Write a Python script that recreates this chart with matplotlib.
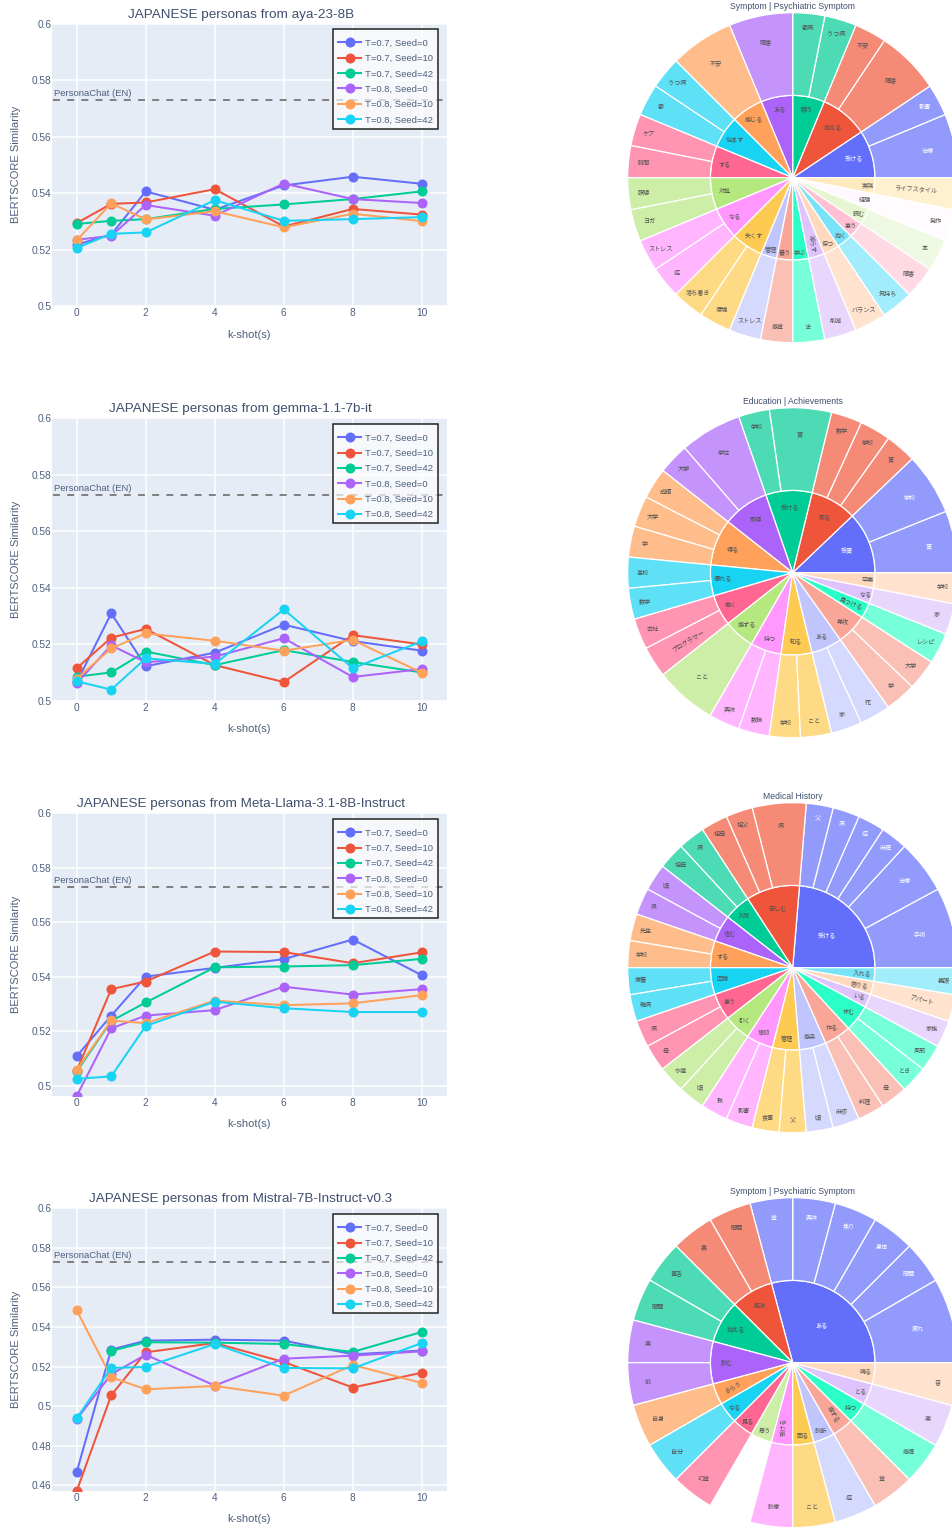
import numpy as np
import matplotlib
matplotlib.use('Agg')
import matplotlib.pyplot as plt
from matplotlib.patches import Rectangle

plt.rcParams['font.family'] = ['Liberation Sans', 'Noto Sans CJK JP']
plt.rcParams['lines.scale_dashes'] = False

W, H = 953, 1528

kshots = [0, 1, 2, 4, 6, 8, 10]
series_names = ['T=0.7, Seed=0', 'T=0.7, Seed=10', 'T=0.7, Seed=42',
                'T=0.8, Seed=0', 'T=0.8, Seed=10', 'T=0.8, Seed=42']
line_colors = ['#636EFA', '#EF553B', '#00CC96', '#AB63FA', '#FFA15A', '#19D3F3']
personachat = 0.5728

# chart 1, aya
aya_t7_s0 = [0.5218, 0.5253, 0.5406, 0.5341, 0.5427, 0.5458, 0.5433]
aya_t7_s10 = [0.5294, 0.5362, 0.5367, 0.5414, 0.5282, 0.5344, 0.5324]
aya_t7_s42 = [0.5291, 0.5302, 0.5308, 0.5344, 0.536, 0.5379, 0.5406]
aya_t8_s0 = [0.5235, 0.5249, 0.5358, 0.532, 0.5434, 0.5379, 0.5365]
aya_t8_s10 = [0.5233, 0.5364, 0.5307, 0.5336, 0.5279, 0.5327, 0.5301]
aya_t8_s42 = [0.5206, 0.5256, 0.5261, 0.5375, 0.5302, 0.5308, 0.5315]

# chart 2, gemma
gemma_t7_s0 = [0.5066, 0.531, 0.5123, 0.5171, 0.527, 0.5212, 0.5178]
gemma_t7_s10 = [0.5116, 0.5224, 0.5255, 0.5127, 0.5067, 0.5233, 0.52]
gemma_t7_s42 = [0.5086, 0.5101, 0.5175, 0.5127, 0.518, 0.5138, 0.5101]
gemma_t8_s0 = [0.5063, 0.5197, 0.5137, 0.5157, 0.5222, 0.5085, 0.5113]
gemma_t8_s10 = [0.5079, 0.5186, 0.5239, 0.5213, 0.5178, 0.5216, 0.51]
gemma_t8_s42 = [0.507, 0.504, 0.5151, 0.5131, 0.5324, 0.5116, 0.5211]

# chart 3, llama
llama_t7_s0 = [0.5109, 0.5258, 0.5401, 0.5433, 0.5465, 0.5537, 0.5406]
llama_t7_s10 = [0.5056, 0.5355, 0.5383, 0.5493, 0.5491, 0.545, 0.549]
llama_t7_s42 = [0.5053, 0.5238, 0.5306, 0.5435, 0.5438, 0.5443, 0.5466]
llama_t8_s0 = [0.4963, 0.5211, 0.5258, 0.5278, 0.5364, 0.5335, 0.5355]
llama_t8_s10 = [0.5059, 0.524, 0.523, 0.5313, 0.5296, 0.5303, 0.5333]
llama_t8_s42 = [0.5026, 0.5035, 0.522, 0.5309, 0.5285, 0.5271, 0.5271]

# chart 4, mistral (no green point visible at k=0)
mistral_t7_s0 = [0.4667, 0.5286, 0.5331, 0.5336, 0.5331, 0.5262, 0.5281]
mistral_t7_s10 = [0.4571, 0.5055, 0.5272, 0.5319, 0.5223, 0.5094, 0.5169]
mistral_t7_s42 = [np.nan, 0.5279, 0.5323, 0.5321, 0.5314, 0.5274, 0.5375]
mistral_t8_s0 = [0.4934, 0.5161, 0.526, 0.5104, 0.524, 0.5255, 0.5277]
mistral_t8_s10 = [0.5484, 0.5146, 0.5085, 0.5102, 0.5053, 0.5208, 0.5117]
mistral_t8_s42 = [0.4939, 0.5193, 0.5198, 0.5314, 0.5193, 0.5191, 0.5319]

line_titles = ['JAPANESE personas from aya-23-8B',
               'JAPANESE personas from gemma-1.1-7b-it',
               'JAPANESE personas from Meta-Llama-3.1-8B-Instruct',
               'JAPANESE personas from Mistral-7B-Instruct-v0.3']
line_data = [
    [aya_t7_s0, aya_t7_s10, aya_t7_s42, aya_t8_s0, aya_t8_s10, aya_t8_s42],
    [gemma_t7_s0, gemma_t7_s10, gemma_t7_s42, gemma_t8_s0, gemma_t8_s10, gemma_t8_s42],
    [llama_t7_s0, llama_t7_s10, llama_t7_s42, llama_t8_s0, llama_t8_s10, llama_t8_s42],
    [mistral_t7_s0, mistral_t7_s10, mistral_t7_s42, mistral_t8_s0, mistral_t8_s10, mistral_t8_s42],
]
yticks_short = [0.5, 0.52, 0.54, 0.56, 0.58, 0.6]
yticks_long = [0.46, 0.48, 0.5, 0.52, 0.54, 0.56, 0.58, 0.6]
line_yticks = [yticks_short, yticks_short, yticks_short, yticks_long]
line_ylims = [(0.5, 0.6), (0.5, 0.6), (0.4963, 0.6), (0.4571, 0.6)]

# sunbursts: verbs in the ring, objects in the outer band
sb1_title = 'Symptom | Psychiatric Symptom'
sb1_verbs = ['受ける', '抱える', '闘う', 'ある', '感じる', '悩ます', 'する', '対処', 'なる', '失くす',
             '管理', '養う', '学ぶ', '減らす', '保つ', '抱く', '患う', '読む', '経験', '実践']
sb1_objects = [['治療', '影響'], ['障害', '不安'], ['うつ病', '鬱病'], ['障害'], ['不安'], ['うつ病', '鬱'],
               ['ケア', '時間'], ['瞑想', 'ヨガ'], ['ストレス', '症'], ['落ち着き', '環境'],
               ['ストレス'], ['感覚'], ['法'], ['削減'], ['バランス'], ['気持ち'], ['障害'], ['本'],
               ['発作'], ['ライフスタイル']]
sb1_counts = [[2, 1], [2, 1], [1, 1], [2], [2], [1, 1], [1, 1], [1, 1], [1, 1], [1, 1],
              [1], [1], [1], [1], [1], [1], [1], [1], [1], [1]]

sb2_title = 'Education | Achievements'
sb2_verbs = ['受賞', '取る', '受ける', '取得', '得る', '優れる', '働く', '感ずる', '持つ', '知る',
             'ある', '専攻', '見つける', 'なる', '卒業']
sb2_objects = [['賞', '学校'], ['賞', '学校', '数学'], ['賞', '学校'], ['学位', '大学'], ['成績', '大学', '学'],
               ['高校', '数学'], ['会社', 'プログラマー'], ['こと'], ['興味', '数論'], ['学校', 'こと'],
               ['家', '花'], ['学', '大学'], ['レシピ'], ['家'], ['学校']]
sb2_counts = [[2, 2], [1, 1, 1], [2, 1], [2, 1], [1, 1, 1], [1, 1], [1, 1], [2], [1, 1], [1, 1],
              [1, 1], [1, 1], [1], [1], [1]]

sb3_title = 'Medical History'
sb3_verbs = ['受ける', '苦しむ', '入院', '住む', 'する', '回復', '患う', '引く', '信仰', '管理',
             '感染', '作る', '休む', 'いる', '借りる', '入れる']
sb3_objects = [['手術', '治療', '麻痺', '症', '病', '父'], ['病', '祖父', '祖母'], ['病', '祖母'], ['頃', '県'],
               ['先生', '学校'], ['療養', '難病'], ['病', '母'], ['水痘', '頃'], ['教', '影響'], ['食事', '父'],
               ['頃', '麻疹'], ['料理', '母'], ['とき', '風邪'], ['家族'], ['アパート'], ['義眼']]
sb3_counts = [[3, 2, 1, 1, 1, 1], [2, 1, 1], [1, 1], [1, 1], [1, 1], [1, 1], [1, 1], [1, 1], [1, 1], [1, 1],
              [1, 1], [1, 1], [1, 1], [1], [1], [1]]

sb4_title = 'Symptom | Psychiatric Symptom'
sb4_verbs = ['ある', '解決', '抱える', '飲む', 'きらう', 'なる', '見る', '思う', '受ける', '困る',
             '診断', '感ずる', '持つ', 'とる', '鳴る']
sb4_objects = [['疲れ', '問題', '身体', '焦り', '興味', '覚'], ['問題', '裏'], ['毒舌', '問題'], ['薬', '前'],
               ['自身'], ['自分'], ['幻覚'], [], ['診療'], ['こと'], ['症'], ['覚'], ['感情'], ['薬'], ['音']]
sb4_counts = [[2, 1, 1, 1, 1, 1], [1, 1], [1, 1], [1, 1], [1], [1], [1], [1], [1], [1], [1], [1], [1], [1], [1]]

ring_colors = ['#636EFA', '#EF553B', '#00CC96', '#AB63FA', '#FFA15A', '#19D3F3', '#FF6692', '#B6E880',
               '#FF97FF', '#FECB52', '#C1C5FD', '#F9A698', '#2BFFC7', '#DFC3FD', '#FFD9BD', '#77E3F9',
               '#FFC0D3', '#E5F6D0', '#FFF9FF', '#FFE9BF']
leaf_colors = ['#929AFC', '#F58A76', '#4DDBB5', '#C493FB', '#FFBD8B', '#5EE0F7', '#FF94B3', '#CCEEA6',
               '#FFB6FF', '#FFDA85', '#D6D9FE', '#FAC0B6', '#77FFD9', '#E8D6FD', '#FFE3CF', '#A2EDFB',
               '#FFDAE5', '#EEF8E3', '#FFFBFF', '#FFF0CF']

# text that plotly turned to fit, (chart, name): (rotation, radius in px)
turned_labels = {(0, '減らす'): (-82, 69), (0, 'ライフスタイル'): (-4, 124),
                 (1, '見つける'): (-22, 66), (1, 'プログラマー'): (30, 125),
                 (2, '入れる'): (-6, 70), (2, '借りる'): (-10, 69), (2, 'いる'): (-15, 72),
                 (2, 'アパート'): (-15, 133),
                 (3, 'きらう'): (30, 65), (3, '受ける'): (90, 65), (3, '感ずる'): (-60, 66)}


def px_rect(l, t, r, b):
    return [l / W, 1 - b / H, (r - l) / W, (b - t) / H]


def draw_lines(fig, i, top, title_gap):
    ax = fig.add_axes(px_rect(52, top, 447, top + 282.7))
    ax.set_facecolor('#E5ECF6')
    ax.set_xlim(-0.716, 10.73)
    ax.set_ylim(*line_ylims[i])
    ax.grid(True, color='white', lw=1.1, zorder=0)
    ax.set_axisbelow(True)
    for s in ax.spines.values():
        s.set_visible(False)
    ax.set_xticks([0, 2, 4, 6, 8, 10])
    ax.set_yticks(line_yticks[i])
    ax.set_yticklabels(['%g' % v for v in line_yticks[i]])
    ax.tick_params(length=0, labelsize=7.3, labelcolor='#4f5f7d')
    ax.tick_params(axis='x', pad=1.2)
    ax.tick_params(axis='y', pad=0.5)
    ax.set_ylabel('BERTSCORE Similarity', fontsize=8, color='#4f5f7d', va='center')
    ax.yaxis.set_label_coords(-0.092, 0.5)
    ax.text(0.5, -28.3 / 282.7, 'k-shot(s)', transform=ax.transAxes, ha='center', va='center',
            fontsize=8, color='#4f5f7d')
    ax.plot([-0.687, 10.614], [personachat, personachat], color='#7f7f7f', lw=1.4,
            dashes=(5.0, 5.2), zorder=2)
    ax.annotate('PersonaChat (EN)', (-0.66, personachat), xytext=(0, 4.8), textcoords='offset points',
                fontsize=6.8, color='#4f5f7d', va='center')
    for vals, name, col in zip(line_data[i], series_names, line_colors):
        ax.plot(kshots, vals, '-o', color=col, lw=1.45, ms=6.2, label=name, zorder=3)
    ax.add_patch(Rectangle((281 / 395, 1 - 105 / 282.7), 105 / 395, 99 / 282.7, transform=ax.transAxes,
                           fc=(1, 1, 1, 0.68), ec='#222222', lw=1.1, zorder=4))
    leg = ax.legend(loc='upper left', bbox_to_anchor=(286 / 395, 1 - 15.2 / 282.7), borderaxespad=0,
                    fontsize=6.8, labelspacing=0.67, handlelength=2.45, handletextpad=0.45,
                    borderpad=0, frameon=False, labelcolor='#4f5f7d')
    leg.set_zorder(5)
    fig.text(240.7 / W, 1 - (top - title_gap) / H, line_titles[i], ha='center', va='center',
             fontsize=9.7, color='#3f4f6d')


def draw_sunburst(fig, i, cy, title, verbs, objects, counts):
    cx = 792.7
    R = 165.0
    inner = 82.3
    pad = 5.0
    ax = fig.add_axes(px_rect(cx - R - pad, cy - R - pad, cx + R + pad, cy + R + pad), projection='polar')
    ax.set_theta_zero_location('E')
    ax.set_rlim(0, R + pad)
    ax.set_axis_off()
    unit = 2 * np.pi / sum(sum(c) for c in counts)
    start = 0.0
    for j, verb in enumerate(verbs):
        units = sum(counts[j])
        mid = start + units * unit / 2
        ring_col = ring_colors[j] if objects[j] else leaf_colors[j]
        ax.bar(mid, inner, width=units * unit, bottom=0, color=ring_col, edgecolor='white', lw=0.9)
        deg = np.degrees(units * unit)
        r = max(81.5 - 0.53 * deg, 47)
        rot = 0
        if (i, verb) in turned_labels:
            rot, r = turned_labels[(i, verb)]
        txt = 'white' if j == 0 else '#505050'
        ax.text(mid, r, verb, rotation=rot, ha='center', va='center', fontsize=4.4, color=txt,
                rotation_mode='anchor', family=['Noto Sans CJK JP', 'DejaVu Sans'])
        a = start
        for name, c in zip(objects[j], counts[j]):
            w = c * unit
            ax.bar(a + w / 2, R - inner, width=w, bottom=inner, color=leaf_colors[j], edgecolor='white', lw=0.9)
            r = 162 - 1.07 * np.degrees(w)
            rot = 0
            if (i, name) in turned_labels:
                rot, r = turned_labels[(i, name)]
            txt = 'white' if j == 0 else '#505050'
            ax.text(a + w / 2, r, name, rotation=rot, ha='center', va='center', fontsize=4.4, color=txt,
                    rotation_mode='anchor', family=['Noto Sans CJK JP', 'DejaVu Sans'])
            a += w
        start += units * unit
    fig.text(cx / W, 1 - (cy - 171) / H, title, ha='center', va='center', fontsize=6.2, color='#3f4f6d')


fig = plt.figure(figsize=(W / 100, H / 100), dpi=100)

line_tops = [23.5, 418.3, 813.3, 1208.3]
title_gaps = [8.7, 9.5, 9.5, 9.5]
for n, t in enumerate(line_tops):
    draw_lines(fig, n, t, title_gaps[n])

draw_sunburst(fig, 0, 177.7, sb1_title, sb1_verbs, sb1_objects, sb1_counts)
draw_sunburst(fig, 1, 572.7, sb2_title, sb2_verbs, sb2_objects, sb2_counts)
draw_sunburst(fig, 2, 967.7, sb3_title, sb3_verbs, sb3_objects, sb3_counts)
draw_sunburst(fig, 3, 1362.7, sb4_title, sb4_verbs, sb4_objects, sb4_counts)

fig.savefig('out.png', dpi=100)
